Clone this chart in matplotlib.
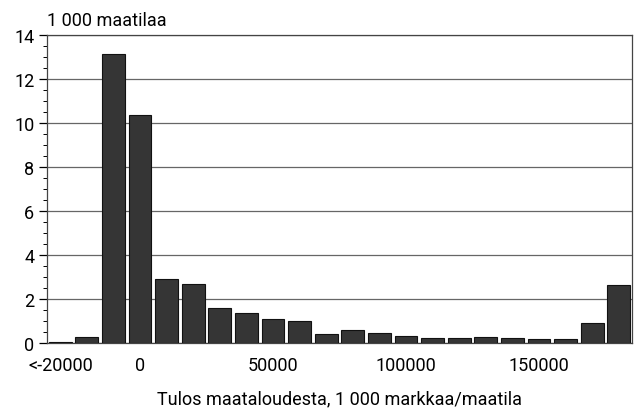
import matplotlib
matplotlib.use("Agg")
import matplotlib.pyplot as plt

plt.rcParams['font.family'] = ['Roboto', 'DejaVu Sans']

# bin lower bounds (1 000 mk), first bin is open-ended "<-20000"
bins = [-30000, -20000, -10000, 0, 10000, 20000, 30000, 40000, 50000, 60000,
        70000, 80000, 90000, 100000, 110000, 120000, 130000, 140000, 150000,
        160000, 170000, 180000]
counts = [0.07, 0.30, 13.15, 10.38, 2.91, 2.72, 1.63, 1.39, 1.11, 1.04,
          0.43, 0.59, 0.47, 0.36, 0.26, 0.27, 0.29, 0.27, 0.21, 0.22,
          0.93, 2.65]
tick_bins = [-30000, 0, 50000, 100000, 150000]
tick_labels = ["<-20000", "0", "50000", "100000", "150000"]

fig = plt.figure(figsize=(6.41, 4.10), dpi=100)
ax = fig.add_axes([0.0733, 0.1598, 0.9127, 0.7522])

pos = list(range(len(bins)))
ax.bar(pos, counts, width=0.86, color="#353535", edgecolor="#111111",
       linewidth=0.8, zorder=3)

ax.set_xlim(-0.5, len(bins) - 0.5)
ax.set_ylim(0, 14)
ax.set_yticks(range(0, 15, 2))
ax.set_yticks([i * 0.5 for i in range(29)], minor=True)
ax.set_xticks([bins.index(b) for b in tick_bins])
ax.set_xticklabels(tick_labels)
ax.tick_params(axis='x', length=0, pad=9, labelsize=13)
ax.tick_params(axis='y', which='major', length=6, width=0.9, direction='out', labelsize=13, pad=3)
ax.tick_params(axis='y', which='minor', length=3, width=0.7, direction='out')
ax.yaxis.grid(True, which='major', color="#666666", linewidth=0.9, zorder=0)
for s in ax.spines.values():
    s.set_color("#444444")
    s.set_linewidth(0.9)

fig.text(0.0733, 0.928, "1 000 maatilaa", fontsize=13, ha='left', va='bottom')
ax.set_xlabel("Tulos maataloudesta, 1 000 markkaa/maatila", fontsize=13, labelpad=11)

fig.savefig("out.png", dpi=100)
